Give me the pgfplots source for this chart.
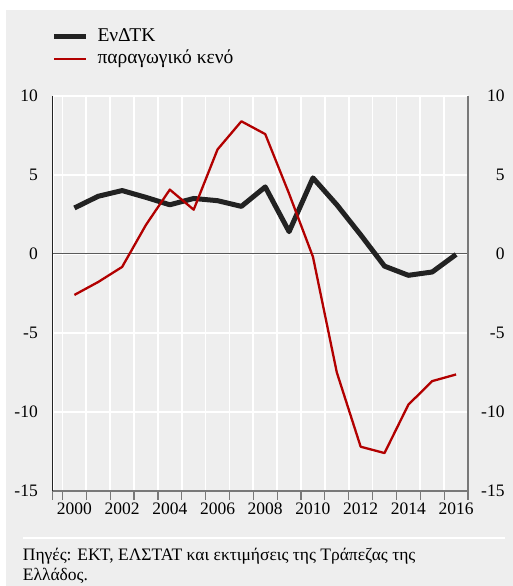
\documentclass[border=0pt]{standalone}
\usepackage{fontspec}
\setmainfont{Liberation Serif}
\usepackage{pgfplots}
\pgfplotsset{compat=1.18}
\definecolor{bg}{RGB}{238,238,238}
\definecolor{dred}{RGB}{178,0,0}
\definecolor{blk}{RGB}{34,34,34}
\definecolor{axgray}{RGB}{120,120,120}
\definecolor{zgray}{RGB}{90,90,90}
\pgfplotstableread{
year endtk gap
2000 2.90 -2.60
2001 3.64 -1.78
2002 4.00 -0.83
2003 3.57 1.83
2004 3.10 4.06
2005 3.50 2.79
2006 3.36 6.60
2007 3.00 8.38
2008 4.23 7.57
2009 1.40 3.80
2010 4.80 -0.19
2011 3.10 -7.50
2012 1.20 -12.20
2013 -0.78 -12.60
2014 -1.36 -9.54
2015 -1.15 -8.05
2016 -0.04 -7.63
}\data
\begin{document}
\begin{tikzpicture}[x=1bp,y=1bp,font=\fontsize{17.5bp}{20bp}\selectfont]
\path[use as bounding box] (0,0) rectangle (513,586);
\fill[white] (0,0) rectangle (513,586);
\fill[bg] (6,0) rectangle (513,576);
\draw[white, line width=2bp] (22.7,47.7) -- (505,47.7);
\node[anchor=base west, inner sep=0pt] at (22.7,25) {Πηγές: ΕΚΤ, ΕΛΣΤΑΤ και εκτιμήσεις της Τράπεζας της};
\node[anchor=base west, inner sep=0pt] at (22.7,5) {Ελλάδος.};
\begin{axis}[
  at={(52.7bp,95bp)}, anchor=south west,
  scale only axis, width=415.3bp, height=395.3bp,
  xmin=1999.09, xmax=2016.5, ymin=-15, ymax=10,
  axis x line*=bottom, axis y line*=left,
  x axis line style={axgray, line width=1.6bp},
  y axis line style={blk, line width=1.3bp},
  xtick={2000,2002,...,2016},
  xticklabels={2000,2002,2004,2006,2008,2010,2012,2014,2016},
  minor xtick={1999.09,1999.5,2000.5,...,2016.5},
  ytick={-15,-10,...,10},
  yticklabels={-15,-10,-5,0,5,10},
  major tick length=0pt, minor tick length=9bp, tick align=outside,
  minor tick style={axgray, line width=1.2bp},
  major tick style={draw=none},
  xminorgrids=true, ymajorgrids=true,
  grid style={white, line width=1.7bp},
  minor grid style={white, line width=1.7bp},
  xticklabel style={anchor=north, inner sep=0pt, yshift=-12bp},
  yticklabel style={anchor=east, inner sep=0pt, xshift=-14.7bp},
  legend style={at={(axis description cs:0,1)}, anchor=north west,
    xshift=-1bp, yshift=67.7bp, draw=none, fill=none, inner sep=0pt,
    column sep=9bp, row sep=5bp,
    font=\fontsize{19.5bp}{22bp}\selectfont,
    nodes={inner sep=0pt, text height=13bp, text depth=4bp}},
  legend cell align=left,
  legend image code/.code={\draw[#1] (0bp,0bp) -- (31.6bp,0bp);},
  clip=false,
]
\addplot[draw=zgray, line width=1.3bp, forget plot] coordinates {(1999.09,0) (2016.5,0)};
\addplot[blk, line width=5bp, line join=round] table[x=year, y=endtk] {\data};
\addlegendentry{ΕνΔΤΚ}
\addplot[dred, line width=2.3bp, line join=round] table[x=year, y=gap] {\data};
\addlegendentry{παραγωγικό κενό}
\end{axis}
\begin{axis}[
  at={(52.7bp,95bp)}, anchor=south west,
  scale only axis, width=415.3bp, height=395.3bp,
  xmin=1999.09, xmax=2016.5, ymin=-15, ymax=10,
  axis x line=none, axis y line*=right,
  y axis line style={axgray, line width=1.3bp},
  ytick={-15,-10,...,10},
  yticklabels={-15,-10,-5,0,5,10},
  major tick length=0pt, major tick style={draw=none},
  yticklabel style={anchor=east, inner sep=0pt, xshift=36.7bp},
]
\end{axis}
\end{tikzpicture}
\end{document}
